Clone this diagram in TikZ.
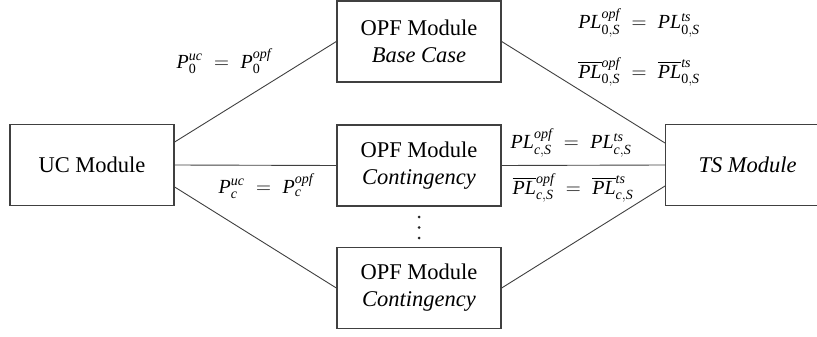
\documentclass[tikz,border=0pt]{standalone}
\usepackage{amsmath}
\usepackage{fontspec}
\setmainfont{Liberation Serif}
% italic letters and upright digits taken from the text font
\newcommand\vi[1]{\text{\itshape #1}}
\newcommand\vu[1]{\text{\upshape #1}}
\begin{document}
\begin{tikzpicture}[x=1pt,y=-1pt,
  module/.style={draw=black!75,line width=1.3pt,fill=white,minimum width=164pt,
    minimum height=81pt,inner sep=0pt,align=center,font=\fontsize{22.5}{27}\selectfont},
  link/.style={draw=black!75,line width=0.9pt},
  eqlabel/.style={inner sep=0pt,font=\fontsize{20}{22}\selectfont},
  dot/.style={fill=black!85,circle,inner sep=0pt,minimum size=3pt}]
\useasboundingbox (0,0) rectangle (817,337);

% modules
\node[module] (uc)    at (92,165)    {UC Module};
\node[module] (base)  at (419,41.5)  {OPF Module\\\textit{Base Case}};
\node[module] (cont)  at (419,165.5) {OPF Module\\\textit{Contingency}};
\node[module] (cont2) at (419,288)   {OPF Module\\\textit{Contingency}};
\node[module,minimum width=170pt,anchor=west] (ts) at (665,165) {\textit{TS Module}\hspace*{6pt}};

% connectors
\draw[link] ([yshift=23pt]uc.east) -- (base.west);
\draw[link] (uc.east) -- (cont.west);
\draw[link] ([yshift=-22pt]uc.east) -- (cont2.west);
\draw[link] (base.east) -- ([yshift=22pt]ts.west);
\draw[link] (cont.east) -- (ts.west);
\draw[link] (cont2.east) -- ([yshift=-21pt]ts.west);

% ellipsis between the contingency modules
\node[dot] (d1) at (419,217) {};
\node[dot] (d2) at (419,227.5) {};
\node[dot] (d3) at (419,238) {};

% coupling constraints
\node[eqlabel] (pz) at (224,61) {$\vi{P}_{\vu{0}}^{\vi{uc}}\;=\;\vi{P}_{\vu{0}}^{\vi{opf}}$};
\node[eqlabel] (pc) at (266,186) {$\vi{P}_{\vi{c}}^{\vi{uc}}\;=\;\vi{P}_{\vi{c}}^{\vi{opf}}$};
\node[eqlabel] (lz1) at (639,23) {$\vi{PL}_{\vu{0},\vi{S}}^{\vi{opf}}\;=\;\vi{PL}_{\vu{0},\vi{S}}^{\vi{ts}}$};
\node[eqlabel] (lz2) at (639,72) {$\overline{\vi{PL}}_{\vu{0},\vi{S}}^{\vi{opf}}\;=\;\overline{\vi{PL}}_{\vu{0},\vi{S}}^{\vi{ts}}$};
\node[eqlabel] (lc1) at (571,143) {$\vi{PL}_{\vi{c},\vi{S}}^{\vi{opf}}\;=\;\vi{PL}_{\vi{c},\vi{S}}^{\vi{ts}}$};
\node[eqlabel] (lc2) at (573,188) {$\overline{\vi{PL}}_{\vi{c},\vi{S}}^{\vi{opf}}\;=\;\overline{\vi{PL}}_{\vi{c},\vi{S}}^{\vi{ts}}$};
\end{tikzpicture}
\end{document}
